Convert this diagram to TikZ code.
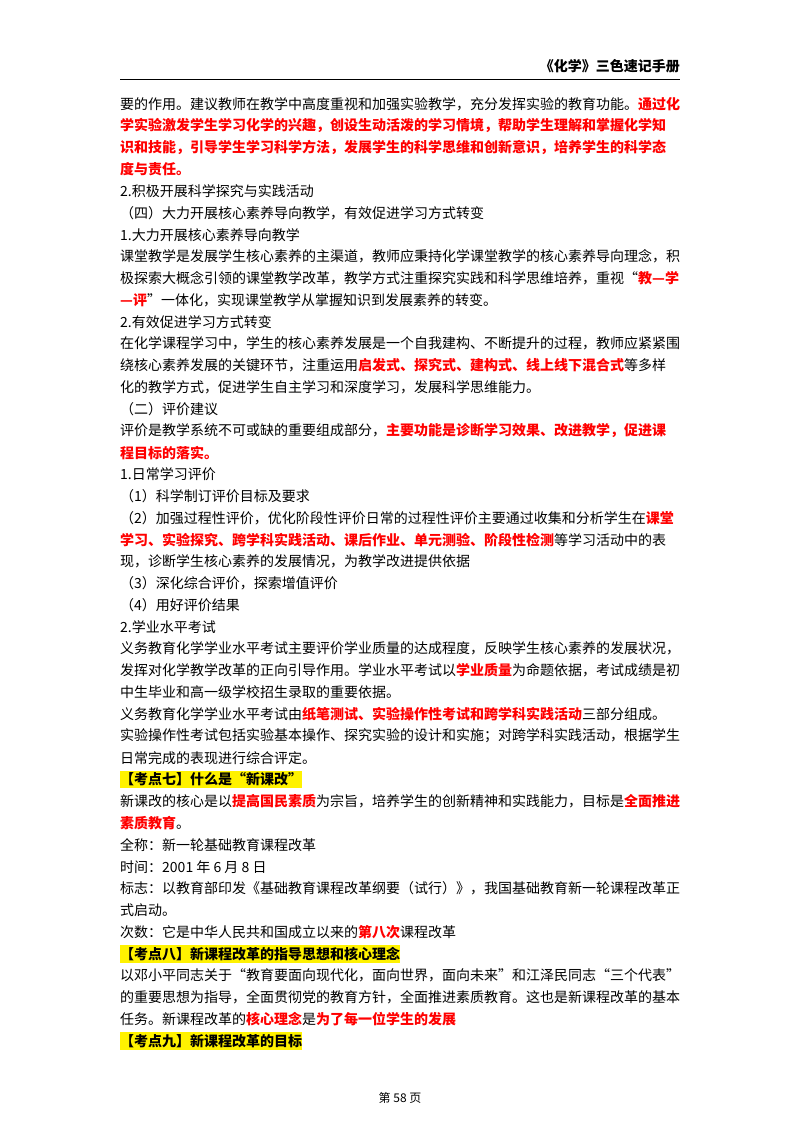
\documentclass[tikz,border=0pt]{standalone}
\usepackage{fontspec}
\setmainfont{Noto Sans CJK SC}
\newcommand{\R}[1]{\textcolor{red}{\bfseries #1}}
\begin{document}
\begin{tikzpicture}[x=1pt,y=-1pt,
  ln/.style={anchor=west,inner sep=0pt,font=\fontsize{14}{16}\selectfont},
  hl/.style={ln,fill=yellow,inner ysep=2pt,font=\fontsize{14}{16}\selectfont\bfseries}]
\useasboundingbox (0,0) rectangle (800,1132);
\node[anchor=east,inner sep=0pt,font=\fontsize{14}{16}\selectfont\bfseries] (hd) at (680,66) {《化学》三色速记手册};
\draw[line width=0.8pt] (120,79) -- (680,79);
\def\L#1#2{\node[ln] (l#1) at (120,{104+21.79*(#1)}) {#2};}
\L{0}{要的作用。建议教师在教学中高度重视和加强实验教学，充分发挥实验的教育功能。\R{通过化}}
\L{1}{\R{学实验激发学生学习化学的兴趣，创设生动活泼的学习情境，帮助学生理解和掌握化学知}}
\L{2}{\R{识和技能，引导学生学习科学方法，发展学生的科学思维和创新意识，培养学生的科学态}}
\L{3}{\R{度与责任。}}
\L{4}{2.积极开展科学探究与实践活动}
\L{5}{（四）大力开展核心素养导向教学，有效促进学习方式转变}
\L{6}{1.大力开展核心素养导向教学}
\L{7}{课堂教学是发展学生核心素养的主渠道，教师应秉持化学课堂教学的核心素养导向理念，积}
\L{8}{极探索大概念引领的课堂教学改革，教学方式注重探究实践和科学思维培养，重视“\R{教—学}}
\L{9}{\R{—评}”一体化，实现课堂教学从掌握知识到发展素养的转变。}
\L{10}{2.有效促进学习方式转变}
\L{11}{在化学课程学习中，学生的核心素养发展是一个自我建构、不断提升的过程，教师应紧紧围}
\L{12}{绕核心素养发展的关键环节，注重运用\R{启发式、探究式、建构式、线上线下混合式}等多样}
\L{13}{化的教学方式，促进学生自主学习和深度学习，发展科学思维能力。}
\L{14}{（二）评价建议}
\L{15}{评价是教学系统不可或缺的重要组成部分，\R{主要功能是诊断学习效果、改进教学，促进课}}
\L{16}{\R{程目标的落实。}}
\L{17}{1.日常学习评价}
\L{18}{（1）科学制订评价目标及要求}
\L{19}{（2）加强过程性评价，优化阶段性评价日常的过程性评价主要通过收集和分析学生在\R{课堂}}
\L{20}{\R{学习、实验探究、跨学科实践活动、课后作业、单元测验、阶段性检测}等学习活动中的表}
\L{21}{现，诊断学生核心素养的发展情况，为教学改进提供依据}
\L{22}{（3）深化综合评价，探索增值评价}
\L{23}{（4）用好评价结果}
\L{24}{2.学业水平考试}
\L{25}{义务教育化学学业水平考试主要评价学业质量的达成程度，反映学生核心素养的发展状况，}
\L{26}{发挥对化学教学改革的正向引导作用。学业水平考试以\R{学业质量}为命题依据，考试成绩是初}
\L{27}{中生毕业和高一级学校招生录取的重要依据。}
\L{28}{义务教育化学学业水平考试由\R{纸笔测试、实验操作性考试和跨学科实践活动}三部分组成。}
\L{29}{实验操作性考试包括实验基本操作、探究实验的设计和实施；对跨学科实践活动，根据学生}
\L{30}{日常完成的表现进行综合评定。}
\node[hl] (k7) at (120,{104+21.79*31}) {【考点七】什么是“新课改”};
\L{32}{新课改的核心是以\R{提高国民素质}为宗旨，培养学生的创新精神和实践能力，目标是\R{全面推进}}
\L{33}{\R{素质教育}。}
\L{34}{全称：新一轮基础教育课程改革}
\L{35}{时间：2001 年 6 月 8 日}
\L{36}{标志：以教育部印发《基础教育课程改革纲要（试行）》，我国基础教育新一轮课程改革正}
\L{37}{式启动。}
\L{38}{次数：它是中华人民共和国成立以来的\R{第八次}课程改革}
\node[hl] (k8) at (120,{104+21.79*39}) {【考点八】新课程改革的指导思想和核心理念};
\L{40}{以邓小平同志关于“教育要面向现代化，面向世界，面向未来”和江泽民同志“三个代表”}
\L{41}{的重要思想为指导，全面贯彻党的教育方针，全面推进素质教育。这也是新课程改革的基本}
\L{42}{任务。新课程改革的\R{核心理念}是\R{为了每一位学生的发展}}
\node[hl] (k9) at (120,{104+21.79*43}) {【考点九】新课程改革的目标};
\node[inner sep=0pt,font=\fontsize{12}{14}\selectfont] (pg) at (400,1098) {第 58 页};
\end{tikzpicture}
\end{document}
